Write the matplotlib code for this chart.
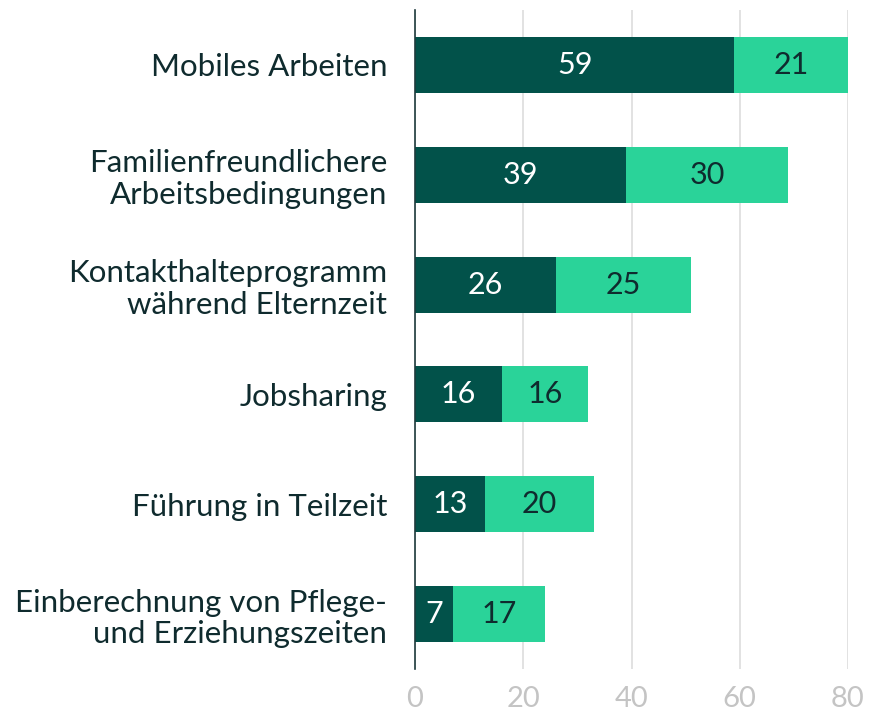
import matplotlib
matplotlib.use("Agg")
import matplotlib.pyplot as plt

categories = ["Mobiles Arbeiten", "Familienfreundlichere\nArbeitsbedingungen",
              "Kontakthalteprogramm\nwährend Elternzeit", "Jobsharing",
              "Führung in Teilzeit", "Einberechnung von Pflege-\nund Erziehungszeiten"]
series_a = [59, 39, 26, 16, 13, 7]
series_b = [21, 30, 25, 16, 20, 17]
xticks = [0, 20, 40, 60, 80]

plt.rcParams['font.family'] = ['Lato', 'DejaVu Sans']
dark = "#02524a"
light = "#2ad399"
textc = "#0f2b2e"

fig = plt.figure(figsize=(8.69, 7.19), dpi=100)
ax = fig.add_axes([415/869, 1-669/719, (848-415)/869, (669-10)/719])
y = list(range(len(categories)))
ax.barh(y, series_a, height=0.51, color=dark, zorder=3)
ax.barh(y, series_b, left=series_a, height=0.51, color=light, zorder=3)
for yi, a, b in zip(y, series_a, series_b):
    ax.text(a/2, yi, str(a), ha='center', va='center', color='white', fontsize=22, zorder=4)
    ax.text(a + b/2, yi, str(b), ha='center', va='center', color=textc, fontsize=22, zorder=4)
ax.set_ylim(len(categories)-0.5, -0.5)
ax.set_xlim(0, 80)
ax.set_yticks(y)
ax.set_yticklabels(categories, fontsize=22.5, color=textc, ha='right', linespacing=1.15)
ax.set_xticks(xticks)
ax.set_xticklabels([str(t) for t in xticks], fontsize=21, color="#c4c4c4")
ax.tick_params(axis='both', length=0)
ax.tick_params(axis='y', pad=20)
ax.tick_params(axis='x', pad=12)
ax.grid(axis='x', color='#dddddd', linewidth=1.2, zorder=0)
for s in ['top', 'right', 'bottom']:
    ax.spines[s].set_visible(False)
ax.spines['left'].set_color('#1e3a3c')
ax.spines['left'].set_linewidth(1.2)
ax.spines['left'].set_zorder(5)
fig.savefig("out.png", dpi=100)
